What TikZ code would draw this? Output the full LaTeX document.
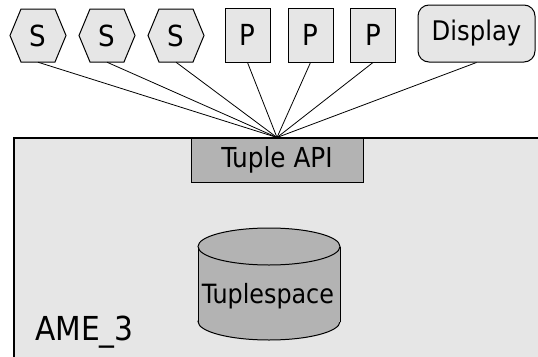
\documentclass[tikz,border=0pt]{standalone}
\usepackage{fontspec}
\setmainfont{DejaVu Sans Condensed}
\definecolor{paleGray}{HTML}{E6E6E6}
\definecolor{midGray}{HTML}{B3B3B3}
\tikzset{
  outline/.style={draw=black, line width=1pt},
  labelfont/.style={font=\fontsize{29}{31}\selectfont},
  hexlabel/.style={labelfont, minimum width=56pt, minimum height=53pt, inner sep=0pt},
  hexline/.style={outline, fill=paleGray},
  pbox/.style={outline, fill=paleGray, labelfont, minimum width=45pt, minimum height=54pt, inner sep=0pt},
  dispbox/.style={outline, fill=paleGray, font=\fontsize{27}{29}\selectfont, rounded corners=11pt, minimum width=117pt, minimum height=57pt, inner sep=0pt},
  apibox/.style={outline, fill=midGray, font=\fontsize{27.5}{29}\selectfont, minimum width=172pt, minimum height=44pt, inner sep=0pt},
  cylline/.style={outline, fill=midGray},
  link/.style={draw=black, line width=0.8pt},
}
\begin{document}
\begin{tikzpicture}[x=1pt, y=-1pt]
  \useasboundingbox (0,0) rectangle (538,356);
  \clip (0,0) rectangle (538,356);

  % host frame
  \draw[line width=1.3pt, fill=paleGray] (14,138) rectangle (560,380);
  \node[anchor=base west, font=\fontsize{33}{35}\selectfont, inner sep=0pt] (host) at (35,340) {AME\_3};

  % tuple API
  \node[apibox] (api) at (277,160) {Tuple API};

  % tuplespace store
  \fill[midGray] (198,246.5) rectangle (340,321.5);
  \draw[cylline] (269,321.5) ellipse [x radius=71, y radius=18.5];
  \fill[midGray] (198,246.5) rectangle (340,321.5);
  \draw[outline] (198,246.5) -- (198,321.5);
  \draw[outline] (340,246.5) -- (340,321.5);
  \draw[cylline] (269,246.5) ellipse [x radius=71, y radius=18.5];
  \node[font=\fontsize{26.5}{28}\selectfont, inner sep=0pt] (store) at (268,296) {Tuplespace};

  % S clients (hexagons)
  \foreach \cx/\nm in {38/s1, 107/s2, 176/s3}{
    \draw[hexline, shift={(\cx,35.5)}] (-28,0) -- (-17,-26.5) -- (17,-26.5) -- (28,0) -- (17,26.5) -- (-17,26.5) -- cycle;
    \node[hexlabel] (\nm) at (\cx,35.5) {S};
  }

  % P clients
  \node[pbox] (p1) at (247.5,35) {P};
  \node[pbox] (p2) at (310.5,35) {P};
  \node[pbox] (p3) at (373,35) {P};

  % display
  \node[dispbox] (disp) at (476.5,33.5) {Display};

  % connections into the API
  \foreach \n in {s1,s2,s3,p1,p2,p3,disp}
    \draw[link] (\n.south) -- (api.north);
\end{tikzpicture}
\end{document}
